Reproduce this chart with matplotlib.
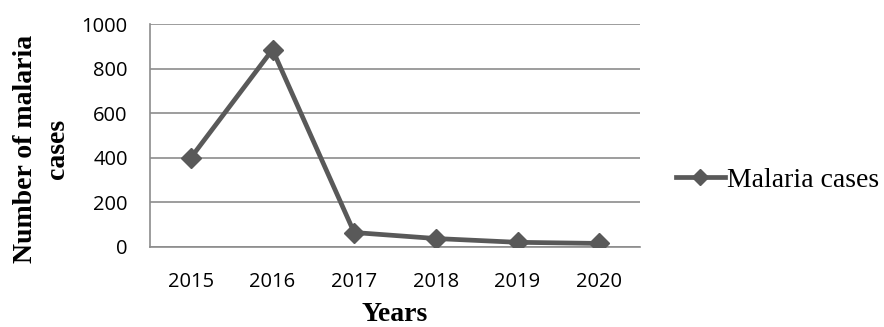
import matplotlib
matplotlib.use("Agg")
import matplotlib.pyplot as plt

years = ["2015", "2016", "2017", "2018", "2019", "2020"]
cases = [400, 885, 65, 38, 21, 16]
yticks = [0, 200, 400, 600, 800, 1000]

W, H = 884, 327
fig = plt.figure(figsize=(W / 100, H / 100), dpi=100)
ax = fig.add_axes([150 / W, 1 - 247 / H, 490 / W, 223 / H])

line_color = "#595959"
grid_color = "#8c8c8c"

x = range(len(years))
ax.plot(x, cases, color=line_color, lw=3.4, marker="D", markersize=10.5,
        markerfacecolor=line_color, markeredgecolor=line_color,
        label="Malaria cases", zorder=3, solid_joinstyle="miter")

ax.set_xlim(-0.5, len(years) - 0.5)
ax.set_ylim(0, 1000)
ax.set_yticks(yticks)
ax.set_xticks(list(x))
ax.set_xticklabels(years)
ax.yaxis.grid(True, color=grid_color, lw=1.2)
ax.set_axisbelow(True)

for s in ["top", "right"]:
    ax.spines[s].set_visible(False)
for s in ["left", "bottom"]:
    ax.spines[s].set_color(grid_color)
    ax.spines[s].set_linewidth(1.2)

ax.tick_params(length=0, labelsize=14.5, colors="#000000")
ax.tick_params(axis="x", pad=18)
ax.tick_params(axis="y", pad=16)
for lbl in ax.get_xticklabels() + ax.get_yticklabels():
    lbl.set_fontfamily("Open Sans")

ax.set_xlabel("Years", fontfamily="Liberation Serif", fontweight="bold",
              fontsize=20)
ax.xaxis.set_label_coords(0.5, (247 - 302) / 223)
ax.set_ylabel("Number of malaria\ncases", fontfamily="Liberation Serif",
              fontweight="bold", fontsize=20, linespacing=1.35)
ax.yaxis.set_label_coords((70 - 150) / 490, (247 - 149) / 223)

leg = fig.legend(loc="center left", bbox_to_anchor=(676 / W, 1 - 180 / H),
                 frameon=False, handlelength=1.75, handletextpad=0.1,
                 borderpad=0, borderaxespad=0, markerscale=0.75,
                 prop={"family": "Liberation Serif", "size": 20})

fig.savefig("out.png", dpi=100)
